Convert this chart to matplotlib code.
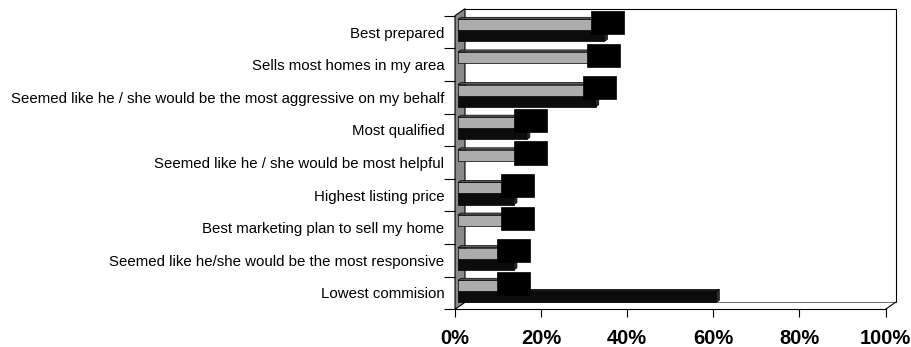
import matplotlib
matplotlib.use("Agg")
import matplotlib.pyplot as plt
from matplotlib.patches import Polygon, Rectangle
from matplotlib.ticker import FixedLocator, FuncFormatter

plt.rcParams['font.family'] = ['Liberation Sans', 'DejaVu Sans']

# survey answers, top row first
categories = [
    "Best prepared",
    "Sells most homes in my area",
    "Seemed like he / she would be the most aggressive on my behalf",
    "Most qualified",
    "Seemed like he / she would be most helpful",
    "Highest listing price",
    "Best marketing plan to sell my home",
    "Seemed like he/she would be the most responsive",
    "Lowest commision",
]
gray_pct = [32, 31, 30, 14, 14, 11, 11, 10, 10]
black_pct = [34, 0, 32, 16, 0, 13, 0, 13, 60]
x_ticks = [0, 20, 40, 60, 80, 100]

W, H, DPI = 912, 347, 100
fig = plt.figure(figsize=(W / DPI, H / DPI), dpi=DPI)
ax_l, ax_r, ax_t, ax_b = 455, 885.5, 15.7, 309.3
ax = fig.add_axes([ax_l / W, 1 - ax_b / H, (ax_r - ax_l) / W, (ax_b - ax_t) / H])
n = len(categories)
ax.set_xlim(0, 100)
ax.set_ylim(n, 0)

# pixel -> data scale factors
ppx = (ax_r - ax_l) / 100.0
ppy = (ax_b - ax_t) / n

# 3D box: depth offset of back wall
DX, DY = 10 / ppx, 7 / ppy
# bars: start offset and face depth
BX0 = 3 / ppx
bdx, bdy = 3 / ppx, 2 / ppy

# side wall (gray) and back wall outline
ax.add_patch(Polygon([(0, 0), (0, n), (DX, n - DY), (DX, -DY)], closed=True,
                     facecolor="#8a8a8a", edgecolor="black", lw=0.8, clip_on=False, zorder=1))
frame = dict(color="black", lw=0.8, clip_on=False, zorder=1)
ax.plot([DX, 100 + DX, 100 + DX], [-DY, -DY, n - DY], **frame)
ax.plot([DX, 100 + DX], [n - DY, n - DY], color="#555555", lw=0.6, clip_on=False, zorder=1)
ax.plot([100, 100 + DX], [n, n - DY], **frame)


def bar3d(x0, v, y0, y1, front, top, side, z):
    x1 = x0 + v
    ax.add_patch(Rectangle((x0, y0), v, y1 - y0, facecolor=front, edgecolor="black",
                           lw=0.5, zorder=z, clip_on=False))
    ax.add_patch(Polygon([(x0, y0), (x1, y0), (x1 + bdx, y0 - bdy), (x0 + bdx, y0 - bdy)],
                         closed=True, facecolor=top, edgecolor="black", lw=0.5, zorder=z,
                         clip_on=False))
    ax.add_patch(Polygon([(x1, y0), (x1, y1), (x1 + bdx, y1 - bdy), (x1 + bdx, y0 - bdy)],
                         closed=True, facecolor=side, edgecolor="black", lw=0.5, zorder=z,
                         clip_on=False))


for i in range(n):
    if black_pct[i] > 0:
        bar3d(BX0, black_pct[i], i + 0.45, i + 0.79, "#0c0c0c", "#1e1e1e", "#2a2a2a", 3)
    bar3d(BX0, gray_pct[i], i + 0.11, i + 0.45, "#acacac", "#5a5a5a", "#7a7a7a", 4)

# value labels of the gray series (black box, black text)
box_w = 33 / ppx
for i, v in enumerate(gray_pct):
    bx = BX0 + v - 1
    ax.add_patch(Rectangle((bx, i - 0.145), box_w, 0.71, facecolor="black",
                           edgecolor="black", lw=0.5, zorder=6, clip_on=False))
    ax.text(bx + box_w / 2, i + 0.21, f"{v}%", color="black", fontsize=9,
            ha="center", va="center", zorder=7)

# axes styling
for s in ("top", "right"):
    ax.spines[s].set_visible(False)
ax.spines["left"].set_visible(False)
ax.spines["bottom"].set_linewidth(0.8)
ax.set_facecolor("none")

ax.xaxis.set_major_locator(FixedLocator(x_ticks))
ax.xaxis.set_major_formatter(FuncFormatter(lambda v, p: f"{v:.0f}%"))
ax.tick_params(axis="x", length=6, width=0.8, pad=8, labelsize=14.5)
for t in ax.get_xticklabels():
    t.set_fontweight("bold")

ax.yaxis.set_major_locator(FixedLocator(range(n + 1)))
ax.yaxis.set_minor_locator(FixedLocator([i + 0.5 for i in range(n)]))
ax.yaxis.set_major_formatter(FuncFormatter(lambda v, p: ""))
ax.set_yticklabels(categories, minor=True)
ax.tick_params(axis="y", which="major", length=8, width=0.8)
ax.tick_params(axis="y", which="minor", length=0, pad=7.7, labelsize=10.8)

fig.savefig("out.png", dpi=DPI, facecolor="white")
